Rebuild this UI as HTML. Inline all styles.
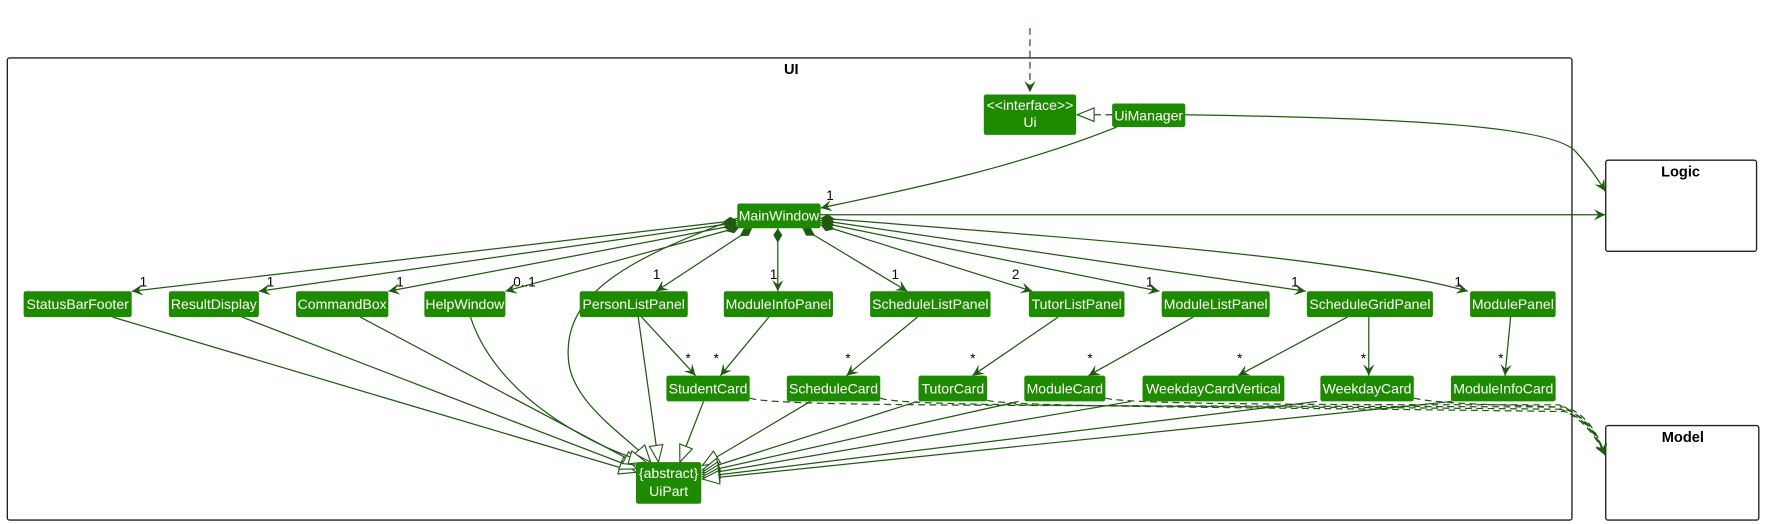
<!DOCTYPE html>
<html><head><meta charset="utf-8"><style>
html,body{margin:0;padding:0;background:#fff;}
svg{display:block;}
text{font-family:"Liberation Sans",sans-serif;}
.b{fill:#1e8a00;}
.t{fill:#fff;font-size:12.5px;text-anchor:middle;}
.l{fill:none;stroke:#1f5a12;stroke-width:1.1;}
.d{fill:none;stroke:#1f5a12;stroke-width:1.1;stroke-dasharray:6,4;}
.m{font-size:12px;fill:#000;}
</style></head><body>
<svg width="1765" height="524" viewBox="0 0 1568 466" preserveAspectRatio="none" xmlns="http://www.w3.org/2000/svg">
<defs>
<marker id="a" markerWidth="12" markerHeight="12" refX="10" refY="6" orient="auto" markerUnits="userSpaceOnUse"><path d="M0,1 L10,6 L0,11 L4,6 Z" fill="#1f5a12"/></marker>
<marker id="dm" markerWidth="16" markerHeight="10" refX="1" refY="5" orient="auto" markerUnits="userSpaceOnUse"><path d="M1,5 L7,1 L14,5 L7,9 Z" fill="#1f5a12"/></marker>
<marker id="tri" markerWidth="18" markerHeight="14" refX="16" refY="7" orient="auto" markerUnits="userSpaceOnUse"><path d="M1,1 L16,7 L1,13 Z" fill="#fff" stroke="#1f5a12" stroke-width="1"/></marker>
</defs>
<!-- frames -->
<rect x="6.5" y="51.5" width="1390" height="411" fill="none" stroke="#222" stroke-width="1.2" rx="2"/>
<text x="703" y="66" font-size="13" font-weight="bold" text-anchor="middle">UI</text>
<rect x="1426.5" y="142.5" width="134" height="81" fill="none" stroke="#222" stroke-width="1.2" rx="2"/>
<text x="1493" y="157" font-size="13" font-weight="bold" text-anchor="middle">Logic</text>
<rect x="1426.5" y="378.5" width="136" height="84" fill="none" stroke="#222" stroke-width="1.2" rx="2"/>
<text x="1495" y="393" font-size="13" font-weight="bold" text-anchor="middle">Model</text>

<!-- top connections -->
<path class="d" d="M915,25 L915,82" marker-end="url(#a)"/>
<path class="d" d="M988,102 L957,102" marker-end="url(#tri)"/>
<path class="l" d="M1053,102 C1250,105 1380,112 1400,135 C1412,148 1420,160 1426,170" marker-end="url(#a)"/>
<path class="l" d="M992,113 C900,150 800,170 729,185" marker-end="url(#a)"/>
<text class="m" x="734" y="178">1</text>
<path class="l" d="M729,191 L1426,191" marker-end="url(#a)"/>

<!-- compositions -->
<g class="l">
<path d="M655,196 L117,259" marker-start="url(#dm)" marker-end="url(#a)"/>
<path d="M655,198 L230,259" marker-start="url(#dm)" marker-end="url(#a)"/>
<path d="M655,200 L345,259" marker-start="url(#dm)" marker-end="url(#a)"/>
<path d="M657,202 L449,259" marker-start="url(#dm)" marker-end="url(#a)"/>
<path d="M668,203 L583,259" marker-start="url(#dm)" marker-end="url(#a)"/>
<path d="M691,203 L691,259" marker-start="url(#dm)" marker-end="url(#a)"/>
<path d="M713,203 L806,259" marker-start="url(#dm)" marker-end="url(#a)"/>
<path d="M729,200 L917,259" marker-start="url(#dm)" marker-end="url(#a)"/>
<path d="M729,198 L1030,259" marker-start="url(#dm)" marker-end="url(#a)"/>
<path d="M729,196 L1160,259" marker-start="url(#dm)" marker-end="url(#a)"/>
<path d="M729,194 C1000,215 1200,230 1304,259" marker-start="url(#dm)" marker-end="url(#a)"/>
<path d="M655,194 C560,230 500,260 505,320 C508,360 560,390 578,411" marker-end="url(#tri)"/>
</g>
<g class="m">
<text x="124" y="255">1</text><text x="237" y="255">1</text><text x="352" y="255">1</text><text x="456" y="255">0..1</text>
<text x="580" y="248">1</text><text x="684" y="248">1</text><text x="792" y="248">1</text><text x="899" y="248">2</text>
<text x="1018" y="255">1</text><text x="1147" y="255">1</text><text x="1292" y="255">1</text>
<text x="609" y="323">*</text><text x="634" y="323">*</text><text x="751" y="323">*</text><text x="862" y="323">*</text>
<text x="966" y="323">*</text><text x="1099" y="323">*</text><text x="1209" y="323">*</text><text x="1331" y="323">*</text>
</g>

<!-- row2 to row3 -->
<g class="l">
<path d="M570,282 L618,334" marker-end="url(#a)"/>
<path d="M683,282 L640,334" marker-end="url(#a)"/>
<path d="M815,282 L752,334" marker-end="url(#a)"/>
<path d="M940,282 L864,334" marker-end="url(#a)"/>
<path d="M1060,282 L967,334" marker-end="url(#a)"/>
<path d="M1197,282 L1100,334" marker-end="url(#a)"/>
<path d="M1216,282 L1216,334" marker-end="url(#a)"/>
<path d="M1342,282 L1337,334" marker-end="url(#a)"/>
</g>

<!-- dashed to Model -->
<g class="d">
<path d="M666,354 C690,362 900,360 1390,362 C1405,366 1418,380 1426,405" marker-end="url(#a)"/>
<path d="M782,354 C800,362 1000,360 1390,364 C1405,368 1418,382 1426,405" marker-end="url(#a)"/>
<path d="M877,356 C900,362 1100,362 1390,366 C1405,370 1418,385 1426,405" marker-end="url(#a)"/>
<path d="M982,354 C1000,360 1200,360 1385,360 C1405,368 1418,385 1426,405" marker-end="url(#a)"/>
<path d="M1256,354 C1280,360 1350,360 1382,362 C1405,370 1418,388 1426,405" marker-end="url(#a)"/>
</g>

<!-- inheritance -->
<g class="l">
<path d="M100,282 L565,420" marker-end="url(#tri)"/>
<path d="M215,282 L566,417" marker-end="url(#tri)"/>
<path d="M320,282 L569,414" marker-end="url(#tri)"/>
<path d="M418,282 C440,350 520,395 574,411" marker-end="url(#tri)"/>
<path d="M567,282 L585,411" marker-end="url(#tri)"/>
<path d="M625,357 L604,411" marker-end="url(#tri)"/>
<path d="M720,357 L624,414" marker-end="url(#tri)"/>
<path d="M815,357 L624,418" marker-end="url(#tri)"/>
<path d="M905,357 L624,420" marker-end="url(#tri)"/>
<path d="M1005,357 L624,422" marker-end="url(#tri)"/>
<path d="M1170,357 L624,424" marker-end="url(#tri)"/>
<path d="M1290,357 L624,426" marker-end="url(#tri)"/>
</g>

<!-- boxes -->
<rect class="b" x="874" y="84" width="82" height="36" rx="2"/>
<text class="t" x="915" y="98">&lt;&lt;interface&gt;&gt;</text><text class="t" x="915" y="113">Ui</text>
<rect class="b" x="988" y="92" width="65" height="21" rx="2"/><text class="t" x="1020.5" y="107">UiManager</text>
<rect class="b" x="655" y="181" width="74" height="22" rx="2"/><text class="t" x="692" y="196">MainWindow</text>

<rect class="b" x="21" y="259" width="96" height="23" rx="2"/><text class="t" x="69" y="275">StatusBarFooter</text>
<rect class="b" x="150" y="259" width="80" height="23" rx="2"/><text class="t" x="190" y="275">ResultDisplay</text>
<rect class="b" x="263" y="259" width="82" height="23" rx="2"/><text class="t" x="304" y="275">CommandBox</text>
<rect class="b" x="377" y="259" width="72" height="23" rx="2"/><text class="t" x="413" y="275">HelpWindow</text>
<rect class="b" x="515" y="259" width="96" height="23" rx="2"/><text class="t" x="563" y="275">PersonListPanel</text>
<rect class="b" x="643" y="259" width="97" height="23" rx="2"/><text class="t" x="691.5" y="275">ModuleInfoPanel</text>
<rect class="b" x="773" y="259" width="107" height="23" rx="2"/><text class="t" x="826.5" y="275">ScheduleListPanel</text>
<rect class="b" x="914" y="259" width="85" height="23" rx="2"/><text class="t" x="956.5" y="275">TutorListPanel</text>
<rect class="b" x="1032" y="259" width="96" height="23" rx="2"/><text class="t" x="1080" y="275">ModuleListPanel</text>
<rect class="b" x="1161" y="259" width="112" height="23" rx="2"/><text class="t" x="1217" y="275">ScheduleGridPanel</text>
<rect class="b" x="1306" y="259" width="76" height="23" rx="2"/><text class="t" x="1344" y="275">ModulePanel</text>

<rect class="b" x="592" y="334" width="74" height="23" rx="2"/><text class="t" x="629" y="350">StudentCard</text>
<rect class="b" x="699" y="334" width="83" height="23" rx="2"/><text class="t" x="740.5" y="350">ScheduleCard</text>
<rect class="b" x="816" y="334" width="61" height="23" rx="2"/><text class="t" x="846.5" y="350">TutorCard</text>
<rect class="b" x="910" y="334" width="72" height="23" rx="2"/><text class="t" x="946" y="350">ModuleCard</text>
<rect class="b" x="1015" y="334" width="126" height="23" rx="2"/><text class="t" x="1078" y="350">WeekdayCardVertical</text>
<rect class="b" x="1173" y="334" width="83" height="23" rx="2"/><text class="t" x="1214.5" y="350">WeekdayCard</text>
<rect class="b" x="1289" y="334" width="93" height="23" rx="2"/><text class="t" x="1335.5" y="350">ModuleInfoCard</text>

<rect class="b" x="565" y="411" width="58" height="37" rx="2"/>
<text class="t" x="594" y="425">{abstract}</text><text class="t" x="594" y="441">UiPart</text>
</svg>
</body></html>
